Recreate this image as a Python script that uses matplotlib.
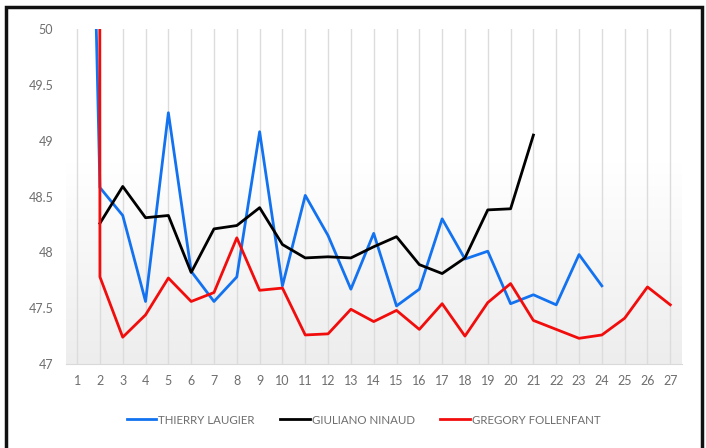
import numpy as np
import matplotlib.pyplot as plt
from matplotlib.patches import Rectangle

# race number on the x axis, lap times on the y axis
races = list(range(1, 28))

thierry = [57.5, 48.58, 48.33, 47.56, 49.25, 47.83, 47.56, 47.78, 49.08, 47.70,
           48.51, 48.15, 47.67, 48.17, 47.52, 47.67, 48.30, 47.94, 48.01, 47.54,
           47.62, 47.53, 47.98, 47.70]
giuliano = [np.nan, 48.26, 48.59, 48.31, 48.33, 47.82, 48.21, 48.24, 48.40, 48.07,
            47.95, 47.96, 47.95, 48.05, 48.14, 47.89, 47.81, 47.95, 48.38, 48.39,
            49.05]
gregory = [400.0, 47.78, 47.24, 47.44, 47.77, 47.56, 47.64, 48.13, 47.66, 47.68,
           47.26, 47.27, 47.49, 47.38, 47.48, 47.31, 47.54, 47.25, 47.55, 47.72,
           47.39, 47.31, 47.23, 47.26, 47.41, 47.69, 47.53]

names = ['THIERRY LAUGIER', 'GIULIANO NINAUD', 'GREGORY FOLLENFANT']
colors = ['#1372f0', '#000000', '#f20d0d']
yticks = [47, 47.5, 48, 48.5, 49, 49.5, 50]

plt.rcParams['font.family'] = ['Lato', 'DejaVu Sans']

fig = plt.figure(figsize=(7.06, 4.48), dpi=100)
ax = fig.add_axes([65.7 / 706, 1 - 364 / 448, (681.7 - 65.7) / 706, (364 - 29) / 448])

# soft gradient behind the plot
grad = np.linspace(0, 1, 256).reshape(-1, 1)
ax.imshow(grad, extent=[0.5, 27.5, 47, 48.8], aspect='auto', origin='upper',
          cmap=plt.matplotlib.colors.LinearSegmentedColormap.from_list('g', ['#ffffff', '#ededed']),
          zorder=0)

for x in races:
    ax.axvline(x, color='#dcdcdc', lw=1, zorder=1)

series = [thierry, giuliano, gregory]
for vals, name, c in zip(series, names, colors):
    ax.plot(races[:len(vals)], vals, color=c, lw=2, label=name, zorder=3)

ax.set_xlim(0.5, 27.5)
ax.set_ylim(47, 50)
ax.set_xticks(races)
ax.set_yticks(yticks)
ax.set_yticklabels(['47', '47.5', '48', '48.5', '49', '49.5', '50'])
for s in ['top', 'right', 'left']:
    ax.spines[s].set_visible(False)
ax.spines['bottom'].set_color('#d9d9d9')
ax.tick_params(length=0, labelsize=9, colors='#6e6e6e')
ax.tick_params(axis='y', pad=9)
ax.tick_params(axis='x', pad=8)

leg = fig.legend(loc='center', bbox_to_anchor=(363.5 / 706, 1 - 420 / 448), ncol=3,
                 frameon=False, fontsize=8.3, handlelength=2.6, handletextpad=0.15,
                 columnspacing=2.2)
for t in leg.get_texts():
    t.set_color('#6e6e6e')

# outer frame
fig.patches.append(Rectangle((6 / 706, -0.1), (702 - 6) / 706, 1.1 - 7 / 448,
                             transform=fig.transFigure, fill=False, lw=2.5,
                             edgecolor='#111111', clip_on=False))

fig.savefig('out.png', dpi=100)
